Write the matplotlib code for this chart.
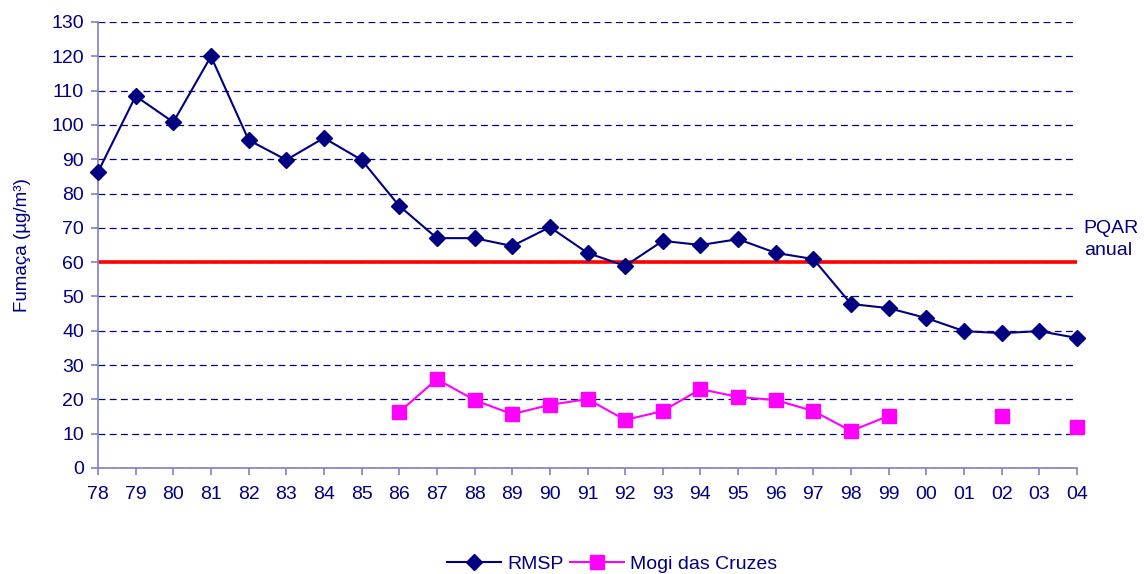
import numpy as np
import matplotlib
matplotlib.use("Agg")
import matplotlib.pyplot as plt

plt.rcParams["font.family"] = ["Liberation Sans", "DejaVu Sans"]

anos = ["78", "79", "80", "81", "82", "83", "84", "85", "86", "87", "88", "89", "90",
        "91", "92", "93", "94", "95", "96", "97", "98", "99", "00", "01", "02", "03", "04"]
rmsp = [86.3, 108.4, 100.8, 120.0, 95.6, 89.8, 96.2, 89.8, 76.4, 67.0, 67.0, 64.7, 70.2,
        62.7, 58.9, 66.2, 65.0, 66.7, 62.7, 60.9, 47.8, 46.6, 43.7, 39.9, 39.3, 39.9, 37.9]
mogi = [np.nan] * 8 + [16.3, 25.9, 19.8, 15.7, 18.4, 20.1, 14.0, 16.6, 23.0, 20.7, 19.8,
                       16.6, 10.8, 15.2, np.nan, np.nan, 15.2, np.nan, 12.0]
pqar = 60

navy = "#000080"
axc = "#8080c0"

fig = plt.figure(figsize=(11.44, 5.74), dpi=100)
ax = fig.add_axes([98 / 1144, 1 - 468 / 574, (1077 - 98) / 1144, (468 - 22) / 574])

x = np.arange(len(anos))
ax.axhline(pqar, color="#ff0000", lw=2.6, zorder=2)
ax.plot(x, rmsp, color=navy, lw=1.5, marker="D", ms=8.5, label="RMSP", zorder=3, clip_on=False)
ax.plot(x, mogi, color="#ff00ff", lw=1.5, marker="s", ms=9.5, label="Mogi das Cruzes",
        zorder=3, clip_on=False)

ax.set_xlim(0, len(anos) - 1)
ax.set_ylim(0, 130)
ax.set_yticks(range(0, 131, 10))
ax.set_xticks(x)
ax.set_xticklabels(anos)
ax.yaxis.grid(True, ls=(0, (5.5, 3.5)), color=navy, lw=0.9)
ax.set_axisbelow(True)

for s in ["top", "right"]:
    ax.spines[s].set_visible(False)
for s in ["left", "bottom"]:
    ax.spines[s].set_color(axc)
    ax.spines[s].set_linewidth(1.2)
ax.tick_params(colors=axc, labelcolor=navy, labelsize=14, length=5, width=1.2)
ax.tick_params(axis="x", pad=8)
ax.tick_params(axis="y", pad=5)

ax.set_ylabel("Fumaça (µg/m³)", color=navy, fontsize=13.5, labelpad=15)

ax.text(1.007, 60.8, "PQAR\nanual", transform=ax.get_yaxis_transform(), color=navy,
        fontsize=14, va="bottom", ha="left", linespacing=1.4)

ax.legend(loc="center", bbox_to_anchor=(0.525, -0.215), ncol=2, frameon=False,
          fontsize=14, labelcolor=navy, handlelength=2.8, columnspacing=0.3,
          handletextpad=0.3, borderaxespad=0, borderpad=0)

fig.savefig("out.png", dpi=100)
